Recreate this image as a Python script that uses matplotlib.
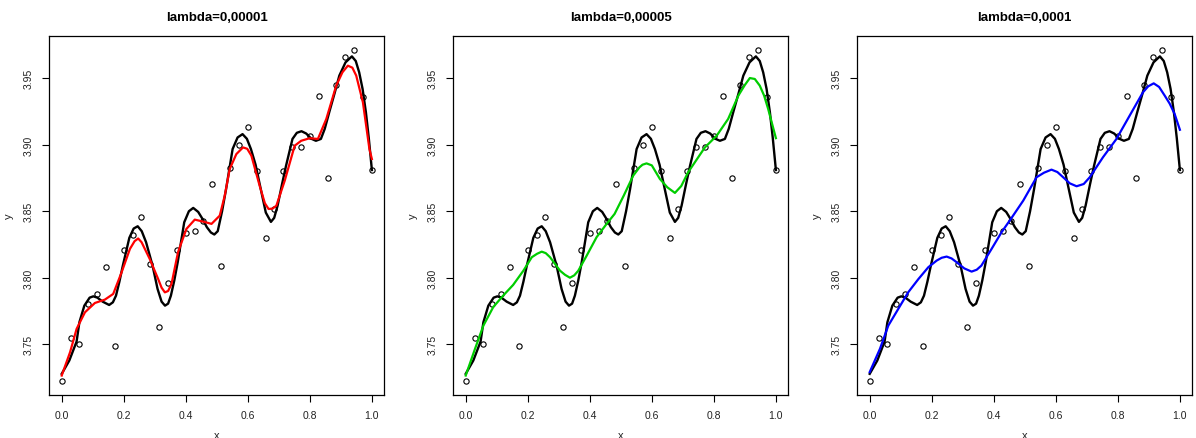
import matplotlib
matplotlib.use('Agg')
import matplotlib.pyplot as plt

plt.rcParams['font.family'] = ['Liberation Sans', 'DejaVu Sans']

# observed points
xp = [0.0, 0.0286, 0.0571, 0.0857, 0.1143, 0.1429, 0.1714, 0.2, 0.2286, 0.2571,
      0.2857, 0.3143, 0.3429, 0.3714, 0.4, 0.4286, 0.4571, 0.4857, 0.5143, 0.5429,
      0.5714, 0.6, 0.6286, 0.6571, 0.6857, 0.7143, 0.7429, 0.7714, 0.8, 0.8286,
      0.8571, 0.8857, 0.9143, 0.9429, 0.9714, 1.0]
yp = [3.722, 3.7545, 3.750, 3.780, 3.788, 3.808, 3.749, 3.821, 3.832, 3.846,
      3.8104, 3.763, 3.796, 3.8205, 3.834, 3.835, 3.843, 3.8705, 3.8086, 3.8823,
      3.8995, 3.913, 3.880, 3.830, 3.8517, 3.880, 3.898, 3.898, 3.9068, 3.937,
      3.875, 3.945, 3.9657, 3.9715, 3.9362, 3.881]

# black curve (same in every panel)
xb = [0, 0.0245, 0.048, 0.057, 0.073, 0.09, 0.102, 0.115, 0.132, 0.153, 0.165, 0.175,
      0.186, 0.197, 0.218, 0.232, 0.245, 0.258, 0.272, 0.293, 0.309, 0.322, 0.333,
      0.343, 0.352, 0.363, 0.374, 0.395, 0.41, 0.424, 0.44, 0.454, 0.468, 0.481,
      0.492, 0.503, 0.517, 0.53, 0.551, 0.567, 0.583, 0.597, 0.61, 0.625, 0.637,
      0.658, 0.6745, 0.685, 0.696, 0.71, 0.723, 0.744, 0.758, 0.773, 0.788, 0.805,
      0.8195, 0.8356, 0.848, 0.8624, 0.88, 0.895, 0.915, 0.9355, 0.948, 0.959, 0.97,
      0.9807, 0.99, 1.0]
yb = [3.7277, 3.7377, 3.752, 3.7665, 3.779, 3.785, 3.786, 3.785, 3.782, 3.7795, 3.7815,
      3.7865, 3.797, 3.809, 3.830, 3.837, 3.8387, 3.835, 3.8267, 3.809, 3.7916, 3.782,
      3.779, 3.7805, 3.7865, 3.798, 3.8117, 3.8417, 3.850, 3.8525, 3.8495, 3.8442,
      3.838, 3.834, 3.8325, 3.835, 3.850, 3.8668, 3.8968, 3.9055, 3.908, 3.9045,
      3.8968, 3.885, 3.8718, 3.849, 3.842, 3.845, 3.8542, 3.870, 3.884, 3.9044, 3.909,
      3.9102, 3.9085, 3.9045, 3.903, 3.9044, 3.912, 3.9244, 3.939, 3.952, 3.962,
      3.9665, 3.963, 3.9545, 3.942, 3.9244, 3.905, 3.881]

# lambda=0,00001
xr = [0, 0.027, 0.048, 0.075, 0.107, 0.139, 0.166, 0.193, 0.22, 0.235, 0.2465, 0.2575,
      0.284, 0.311, 0.322, 0.3325, 0.343, 0.354, 0.375, 0.402, 0.429, 0.456, 0.483,
      0.5095, 0.5256, 0.5417, 0.563, 0.5845, 0.598, 0.6115, 0.638, 0.655, 0.667, 0.68,
      0.692, 0.719, 0.751, 0.772, 0.799, 0.826, 0.853, 0.885, 0.905, 0.9225, 0.937,
      0.9495, 0.971, 0.992, 1.0]
yr = [3.7264, 3.744, 3.7615, 3.774, 3.781, 3.7835, 3.7878, 3.804, 3.8217, 3.8275,
      3.8295, 3.8267, 3.814, 3.799, 3.7925, 3.789, 3.790, 3.7953, 3.8192, 3.8367,
      3.8437, 3.8422, 3.8405, 3.8467, 3.8617, 3.8818, 3.893, 3.898, 3.897, 3.8918,
      3.8693, 3.856, 3.8517, 3.852, 3.8542, 3.873, 3.8993, 3.903, 3.9049, 3.9044,
      3.9194, 3.9445, 3.9545, 3.9595, 3.958, 3.952, 3.932, 3.8968, 3.8893]

# lambda=0,00005
xg = [0, 0.03, 0.057, 0.089, 0.121, 0.153, 0.186, 0.213, 0.23, 0.245, 0.258, 0.272,
      0.304, 0.32, 0.336, 0.35, 0.363, 0.39, 0.422, 0.454, 0.48, 0.51, 0.54, 0.56, 0.57,
      0.583, 0.6, 0.626, 0.65, 0.6745, 0.695, 0.717, 0.771, 0.809, 0.846, 0.879, 0.9,
      0.916, 0.932, 0.948, 0.962, 0.975, 1.0]
yg = [3.7264, 3.7465, 3.764, 3.778, 3.7866, 3.7946, 3.8053, 3.8154, 3.818, 3.8196,
      3.8185, 3.8154, 3.8053, 3.8022, 3.800, 3.8018, 3.8053, 3.8166, 3.8305, 3.8404,
      3.848, 3.862, 3.8768, 3.883, 3.885, 3.886, 3.8845, 3.8743, 3.868, 3.8638, 3.869,
      3.8793, 3.898, 3.9068, 3.9194, 3.937, 3.945, 3.9502, 3.9495, 3.9445, 3.937,
      3.927, 3.905]

# lambda=0,0001
xbl = [0, 0.033, 0.06, 0.092, 0.124, 0.157, 0.189, 0.216, 0.232, 0.248, 0.264, 0.28,
       0.305, 0.3285, 0.345, 0.36, 0.393, 0.425, 0.455, 0.495, 0.538, 0.562, 0.586,
       0.605, 0.6235, 0.645, 0.667, 0.69, 0.7095, 0.752, 0.7955, 0.838, 0.881, 0.898,
       0.9156, 0.933, 0.951, 0.967, 0.983, 1.0]
ybl = [3.729, 3.7465, 3.764, 3.7765, 3.789, 3.799, 3.8079, 3.8129, 3.815, 3.8159,
       3.8145, 3.8117, 3.807, 3.8046, 3.806, 3.8091, 3.8217, 3.8342, 3.8442, 3.858,
       3.8756, 3.879, 3.8813, 3.8795, 3.8756, 3.871, 3.8688, 3.8705, 3.8756, 3.8906,
       3.9044, 3.9219, 3.9395, 3.944, 3.9462, 3.9435, 3.937, 3.931, 3.9232, 3.9113]

titles = ['lambda=0,00001', 'lambda=0,00005', 'lambda=0,0001']
fits = [(xr, yr, '#ff0000'), (xg, yg, '#00cd00'), (xbl, ybl, '#0000ff')]
xticks = [0.0, 0.2, 0.4, 0.6, 0.8, 1.0]
yticks = [3.75, 3.80, 3.85, 3.90, 3.95]

W, H = 1196, 439
fig = plt.figure(figsize=(W/100., H/100.), dpi=100)
tc = '#222222'
for i in range(3):
    left = 49.3 + 404*i
    ax = fig.add_axes([left/W, (H-395.7)/H, 335./W, 358.4/H])
    ax.plot(xp, yp, 'o', mfc='none', mec='black', ms=3.8, mew=0.8)
    ax.plot(xb, yb, color='black', lw=1.7, solid_joinstyle='round')
    fx, fy, c = fits[i]
    ax.plot(fx, fy, color=c, lw=1.6, solid_joinstyle='round')
    ax.set_xlim(-0.04, 1.04)
    ax.set_ylim(3.712, 3.9816)
    ax.set_xticks(xticks)
    ax.set_xticklabels(['%.1f' % v for v in xticks])
    ax.set_yticks(yticks)
    ax.set_yticklabels(['%.2f' % v for v in yticks], rotation=90, va='center')
    ax.tick_params(length=5, width=0.8, labelsize=7.5, labelcolor=tc, pad=6)
    for s in ax.spines.values():
        s.set_linewidth(0.9)
    ax.set_xlabel('x', fontsize=8, color=tc, labelpad=7)
    ax.set_ylabel('y', fontsize=8, color=tc, labelpad=7)
    ax.set_title(titles[i], fontsize=9.5, fontweight='bold', pad=12)

plt.savefig('out.png', dpi=100)
